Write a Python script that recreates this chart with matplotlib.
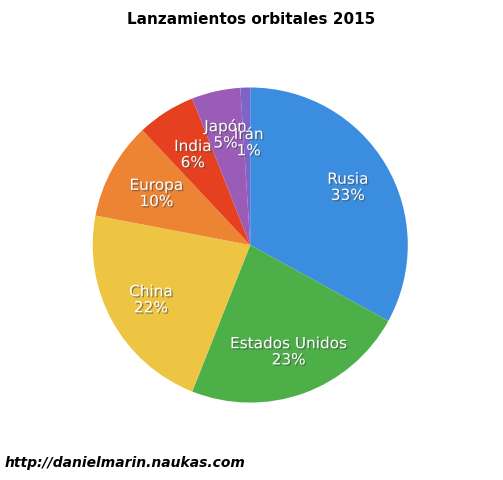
import matplotlib.pyplot as plt
import matplotlib.patheffects as pe
import numpy as np

labels = ["Rusia", "Estados Unidos", "China", "Europa", "India", "Japón", "Irán"]
values = [33, 23, 22, 10, 6, 5, 1]
colors = ["#3b8de0", "#4caf48", "#eec443", "#ec8434", "#e5401f", "#9b5cb8", "#7c64c8"]
label_r = [0.72, 0.72, 0.72, 0.68, 0.68, 0.72, 0.62]

fig = plt.figure(figsize=(5.03, 4.8), dpi=100)
ax = fig.add_axes([0.106, 0.079, 0.783, 0.821])
wedges, _ = ax.pie(values, colors=colors, startangle=90, counterclock=False,
                   wedgeprops=dict(linewidth=0))
ax.set_aspect("equal")

total = sum(values)
start = 90
for lab, v, r in zip(labels, values, label_r):
    mid = np.deg2rad(start - 360 * v / total / 2)
    start -= 360 * v / total
    x, y = r * np.cos(mid), r * np.sin(mid)
    if lab == "Irán":
        x, y = -0.01, 0.65
    ax.text(x, y, f"{lab}\n{v}%", ha="center", va="center", color="white",
            fontsize=11, linespacing=1.1,
            path_effects=[pe.withSimplePatchShadow(offset=(1, -1), alpha=0.6)])

fig.text(0.5, 0.975, "Lanzamientos orbitales 2015", ha="center", va="top",
         fontsize=11, fontweight="bold")
fig.text(0.01, 0.02, "http://danielmarin.naukas.com", ha="left", va="bottom",
         fontsize=10, fontweight="bold", style="italic")
fig.savefig("out.png", dpi=100)
